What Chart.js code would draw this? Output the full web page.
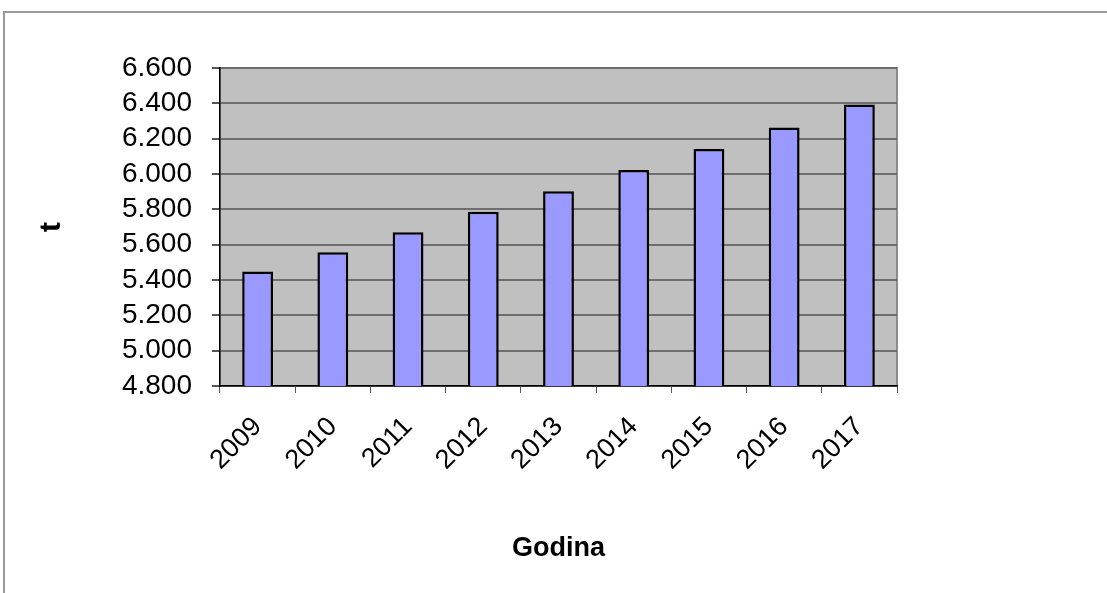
<!DOCTYPE html>
<html>
<head>
<meta charset="utf-8">
<script src="https://cdn.jsdelivr.net/npm/chart.js@4/dist/chart.umd.min.js"></script>
<style>
  html, body { margin: 0; padding: 0; background: #ffffff; }
  #frame {
    position: absolute; left: 3px; top: 11px; width: 1110px; height: 590px;
    border-top: 2px solid #9a9a9a; border-left: 2px solid #9a9a9a;
  }
  #wrap { position: absolute; left: 0; top: 0; width: 1107px; height: 593px; }
</style>
</head>
<body>
<div id="frame"></div>
<div id="wrap"><canvas id="c" width="1107" height="593"></canvas></div>
<script>
// Annual amounts in tonnes
const years = ['2009', '2010', '2011', '2012', '2013', '2014', '2015', '2016', '2017'];
const tonnes = [5448, 5557, 5670, 5787, 5902, 6022, 6142, 6263, 6393];
const yMin = 4800;
const yMax = 6600;
const yStep = 200;
const xTitle = 'Godina';
const yTitle = 't';

const FONT = "'Liberation Sans', Arial, sans-serif";

// Thousands separated by a dot: 6600 -> "6.600"
function fmt(v) {
  const s = String(Math.round(v));
  return s.replace(/\B(?=(\d{3})+(?!\d))/g, '.');
}

// Grey plot background and frame behind the grid
const plotBackground = {
  id: 'plotBackground',
  beforeDraw(chart) {
    const { ctx, chartArea: a } = chart;
    ctx.save();
    ctx.fillStyle = '#c0c0c0';
    ctx.fillRect(a.left, a.top, a.right - a.left, a.bottom - a.top);
    ctx.strokeStyle = '#8a8a8a';
    ctx.lineWidth = 2;
    ctx.strokeRect(a.left, a.top, a.right - a.left, a.bottom - a.top);
    ctx.restore();
  }
};

new Chart(document.getElementById('c'), {
  type: 'bar',
  data: {
    labels: years,
    datasets: [{
      data: tonnes,
      backgroundColor: '#9999ff',
      borderColor: '#000000',
      borderWidth: 2.5,
      borderSkipped: false,
      categoryPercentage: 1,
      barPercentage: 0.41
    }]
  },
  plugins: [plotBackground],
  options: {
    responsive: false,
    animation: false,
    devicePixelRatio: 1,
    layout: { padding: { left: 34, right: 210, top: 68, bottom: 28 } },
    plugins: { legend: { display: false }, tooltip: { enabled: false } },
    scales: {
      x: {
        afterFit(s) { s.height = 179; },
        grid: { display: true, drawOnChartArea: false, offset: true, tickLength: 7, color: '#555555', lineWidth: 1 },
        border: { display: true, color: '#000000', width: 1.5 },
        ticks: {
          color: '#000000', font: { family: FONT, size: 27 },
          maxRotation: 45, minRotation: 45, padding: 18, autoSkip: false
        },
        title: { display: true, text: xTitle, color: '#000000', font: { family: FONT, size: 27, weight: 'bold' }, padding: 0 }
      },
      y: {
        min: yMin, max: yMax,
        afterFit(s) { s.width = 186; },
        grid: { color: '#6e6e6e', lineWidth: 2, tickLength: 8, tickColor: '#555555' },
        border: { display: true, color: '#000000', width: 1.5 },
        ticks: {
          stepSize: yStep, autoSkip: false, color: '#000000', font: { family: FONT, size: 28 }, padding: 20,
          callback: (v) => fmt(v)
        },
        title: { display: true, text: yTitle, color: '#000000', font: { family: FONT, size: 30, weight: 'bold' }, padding: 0 }
      }
    }
  }
});
</script>
</body>
</html>
